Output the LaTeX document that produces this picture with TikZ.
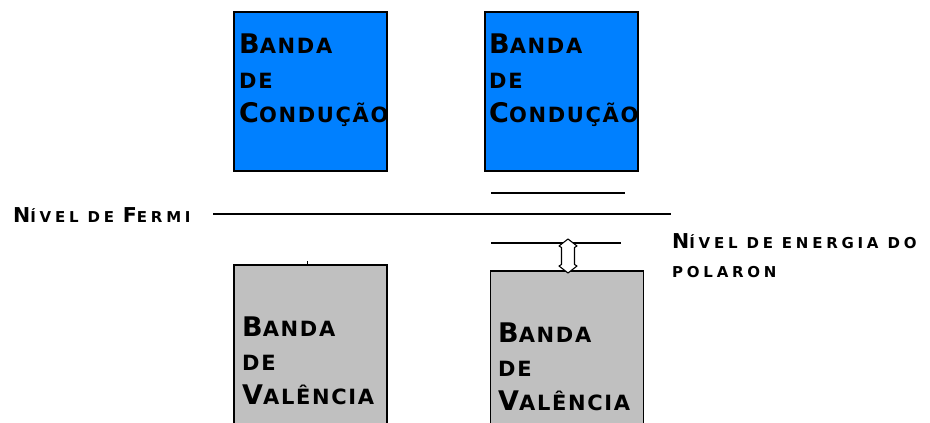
\documentclass[tikz,border=0pt]{standalone}
\usepackage{fontspec}
\setmainfont{DejaVu Sans}
\newfontfamily\bandfont{DejaVu Sans}[LetterSpace=8]
\newfontfamily\lblfont{DejaVu Sans}[LetterSpace=25]
\definecolor{condblue}{RGB}{0,128,255}
\definecolor{valgray}{RGB}{192,192,192}
\newcommand\BL[1]{{\fontsize{27pt}{27pt}\selectfont #1}}
\newcommand\BS[1]{{\fontsize{21pt}{21pt}\selectfont #1}}
\newcommand\LL[1]{{\fontsize{20.5pt}{20.5pt}\selectfont #1}}
\newcommand\LS[1]{{\fontsize{15pt}{15pt}\selectfont #1}}
\begin{document}
\begin{tikzpicture}[x=1pt,y=-1pt,
  cbox/.style={draw=black, fill=condblue, line width=1.3pt, inner sep=0pt, minimum width=153pt, minimum height=159pt},
  vbox/.style={draw=black, fill=valgray, line width=1.3pt, inner sep=0pt, minimum width=153pt, minimum height=170pt},
  bandtxt/.style={anchor=base west, inner sep=0pt, font=\bandfont\bfseries},
  lbltxt/.style={anchor=base west, inner sep=0pt, font=\lblfont\bfseries},
  level/.style={line width=1.4pt},
  gap/.style={draw=black, fill=white, line width=1.1pt, line join=round}
]
\useasboundingbox (0,0) rectangle (930,423);
\clip (0,0) rectangle (930,423);
% conduction bands
\node[cbox] (cb1) at (310.5,91.5) {};
\node[cbox] (cb2) at (561.5,91.5) {};
\node[bandtxt] (cb1a) at (239,53) {\BL{B}\BS{ANDA}};
\node[bandtxt] (cb1b) at (239,88) {\BS{DE}};
\node[bandtxt] (cb1c) at (239,122) {\BL{C}\BS{ONDUÇÃO}};
\begin{scope}
\clip (cb2.south west) rectangle (cb2.north east);
\node[bandtxt] (cb2a) at (489,53) {\BL{B}\BS{ANDA}};
\node[bandtxt] (cb2b) at (489,88) {\BS{DE}};
\node[bandtxt] (cb2c) at (489,122) {\BL{C}\BS{ONDUÇÃO}};
\end{scope}
\draw[line width=1.3pt] (cb2.south west) rectangle (cb2.north east);
% valence bands
\node[vbox] (vb1) at (310.5,350) {};
\node[vbox] (vb2) at (567,356) {};
\draw[line width=0.8pt] (307,261) -- (307,265);
\node[bandtxt] (vb1a) at (242,336) {\BL{B}\BS{ANDA}};
\node[bandtxt] (vb1b) at (242,370) {\BS{DE}};
\node[bandtxt] (vb1c) at (242,404) {\BL{V}\BS{ALÊNCIA}};
\node[bandtxt] (vb2a) at (498,342) {\BL{B}\BS{ANDA}};
\node[bandtxt] (vb2b) at (498,376) {\BS{DE}};
\node[bandtxt] (vb2c) at (498,410) {\BL{V}\BS{ALÊNCIA}};
% levels
\node[lbltxt] (fermi) at (13,222) {\LL{N}\LS{ÍVEL DE }\LL{F}\LS{ERMI}};
\coordinate (fL) at (213,214);
\coordinate (fR) at (671,214);
\draw[level] (fL) -- (fR);
\coordinate (uL) at (491,193);
\coordinate (uR) at (625,193);
\draw[level] (uL) -- (uR);
\coordinate (pL) at (491,243);
\coordinate (pR) at (621,243);
\draw[level] (pL) -- (pR);
% gap double arrow between polaron level and valence band
\coordinate (gtop) at (568,239);
\coordinate (gbot) at (568,273);
\draw[gap] (gtop) -- ++(9,7) -- ++(-2.5,1.5) -- ++(0,17) -- ++(2.5,1.5)
  -- (gbot) -- ++(-9,-7) -- ++(2.5,-1.5) -- ++(0,-17) -- ++(-2.5,-1.5) -- cycle;
\node[lbltxt] (pol1) at (672,248) {\LL{N}\LS{ÍVEL DE ENERGIA DO}};
\node[lbltxt] (pol2) at (672,277) {\LS{POLARON}};
\end{tikzpicture}
\end{document}
